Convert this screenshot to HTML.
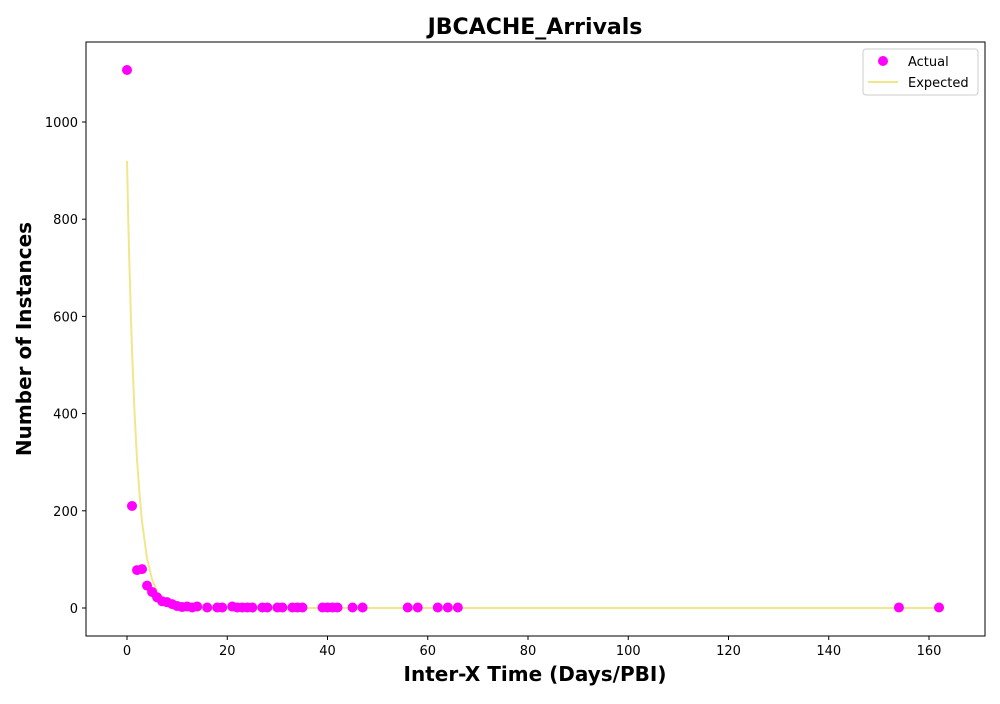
<!DOCTYPE html>
<html><head><meta charset="utf-8"><style>
body{margin:0;background:#fff;font-family:"DejaVu Sans","Liberation Sans",sans-serif}
svg text{font-family:"DejaVu Sans","Liberation Sans",sans-serif}
</style></head><body>
<svg id="chart" width="1000" height="700" xmlns="http://www.w3.org/2000/svg">
<rect width="1000" height="700" fill="#fff"/>
<text x="535" y="34" font-size="22" font-weight="bold" text-anchor="middle">JBCACHE_Arrivals</text>
<g id="curve"></g>
<g id="points"></g>
<g id="xticks"></g>
<g id="yticks"></g>
<rect x="86" y="42" width="899" height="594" fill="none" stroke="#000" stroke-width="1"/>
<text x="535" y="681" font-size="20" font-weight="bold" text-anchor="middle">Inter-X Time (Days/PBI)</text>
<text x="31" y="339" font-size="20" font-weight="bold" text-anchor="middle" transform="rotate(-90 31 339)">Number of Instances</text>
<g>
<rect x="863" y="49" width="115" height="46" rx="3" fill="#fff" stroke="#ccc"/>
<circle cx="883" cy="61" r="5" fill="#ff00ff"/>
<text x="908" y="66" font-size="13">Actual</text>
<line x1="868" y1="82" x2="898" y2="82" stroke="#f0e68c" stroke-width="2"/>
<text x="908" y="87" font-size="13">Expected</text>
</g>
</svg>
<script>
const actualX=[0,1,2,3,4,5,6,7,8,9,10,11,12,13,14,16,18,19,21,22,23,24,25,27,28,30,31,33,34,35,39,40,41,42,45,47,56,58,62,64,66,154,162];
const actualY=[1107,210,78,80,46,33,22,14,12,8,4,2,3,1,3,1,1,1,3,1,1,1,1,1,1,1,1,1,1,1,1,1,1,1,1,1,1,1,1,1,1,1,1];
const expX=[0,0.25,0.5,0.75,1,1.5,2,2.5,3,4,5,6,7,8,10,12,15,20,162];
const expY=[920,800,700,610,530,403,306,235,177,102,59,34,20,11,4,1.2,0.2,0,0];
const xTicks=[0,20,40,60,80,100,120,140,160];
const yTicks=[0,200,400,600,800,1000];
const NS="http://www.w3.org/2000/svg";
const sx=v=>127+v*(929-127)/160;
const sy=v=>608-v*(608-122)/1000;
const curve=document.getElementById('curve');
const pl=document.createElementNS(NS,'polyline');
pl.setAttribute('points',expX.map((x,i)=>sx(x)+','+sy(expY[i])).join(' '));
pl.setAttribute('fill','none');pl.setAttribute('stroke','#f0e68c');pl.setAttribute('stroke-width','2');


curve.appendChild(pl);
const pts=document.getElementById('points');
actualX.forEach((x,i)=>{const c=document.createElementNS(NS,'circle');
c.setAttribute('cx',sx(x));c.setAttribute('cy',sy(actualY[i]));c.setAttribute('r','5');c.setAttribute('fill','#ff00ff');


pts.appendChild(c);});
const xt=document.getElementById('xticks');
xTicks.forEach(t=>{const l=document.createElementNS(NS,'line');
l.setAttribute('x1',sx(t));l.setAttribute('x2',sx(t));l.setAttribute('y1',636);l.setAttribute('y2',640);l.setAttribute('stroke','#000');


xt.appendChild(l);
const tx=document.createElementNS(NS,'text');tx.setAttribute('x',sx(t));tx.setAttribute('y',655);tx.setAttribute('font-size','13');tx.setAttribute('text-anchor','middle');tx.textContent=t;


xt.appendChild(tx);});
const yt=document.getElementById('yticks');
yTicks.forEach(t=>{const l=document.createElementNS(NS,'line');
l.setAttribute('x1',82);l.setAttribute('x2',86);l.setAttribute('y1',sy(t));l.setAttribute('y2',sy(t));l.setAttribute('stroke','#000');


yt.appendChild(l);
const tx=document.createElementNS(NS,'text');tx.setAttribute('x',78);tx.setAttribute('y',sy(t)+5);tx.setAttribute('font-size','13');tx.setAttribute('text-anchor','end');tx.textContent=t;


yt.appendChild(tx);});
</script>
</body></html>
